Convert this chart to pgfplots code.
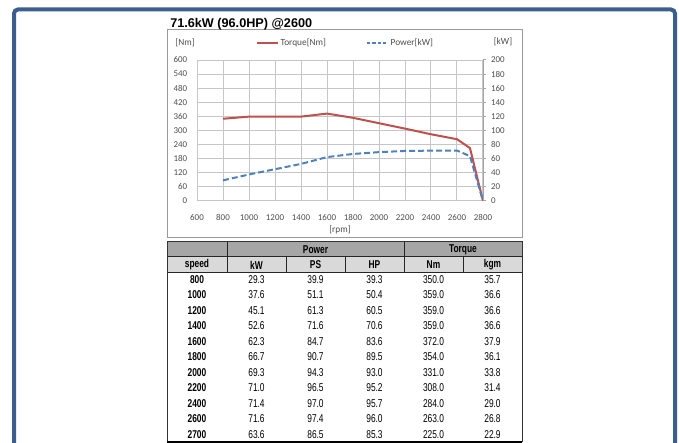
\documentclass[border=0pt]{standalone}
\usepackage{pgfplots}
\pgfplotsset{compat=1.18}
\usepackage{fontspec}
\setmainfont{Liberation Sans}
\newfontfamily\calfont{Carlito}
\newfontfamily\narrow[FakeStretch=0.74]{Liberation Sans}
\definecolor{frame}{HTML}{3B5E8C}
\definecolor{tq}{HTML}{C0504D}
\definecolor{pw}{HTML}{4F81BD}
\definecolor{hdrA}{HTML}{A6A6A6}
\definecolor{hdrB}{HTML}{D9D9D9}
\definecolor{txt}{HTML}{4D4D4D}
\begin{document}
\begin{tikzpicture}[x=0.75pt,y=0.75pt]
\path[use as bounding box] (0,0) rectangle (679,443);
% outer frame
\draw[frame, line width=3pt, rounded corners=3pt] (14,-5) -- (14,433.5) -- (675,433.5) -- (675,-5);
% chart box
\draw[gray!80, line width=0.75pt] (167,413) rectangle (522,205);
\node[anchor=base west, inner sep=0pt, font=\bfseries\fontsize{9.5}{11}\selectfont] at (170,415.5) {71.6kW (96.0HP) @2600};
\node[font=\calfont\fontsize{7}{8}\selectfont, text=txt] at (185,400) {[Nm]};
\node[font=\calfont\fontsize{7}{8}\selectfont, text=txt] at (503,401) {[kW]};

\begin{axis}[
  at={(147.75pt,181.5pt)}, anchor=south west,
  scale only axis, width=214.5pt, height=105.75pt,
  xmin=600, xmax=2800, ymin=0, ymax=600,
  xtick={600,800,...,2800}, ytick={0,60,...,600},
  grid=major, major grid style={gray!45, line width=0.75pt},
  axis line style={draw=none},
  major tick length=0pt,
  tick label style={font=\calfont\fontsize{6.7}{7}\selectfont, text=txt},
  /pgf/number format/assume math mode=true,
  /pgf/number format/1000 sep={},
  x tick label style={yshift=-6.5pt},
  y tick label style={xshift=-3.8pt},
  xlabel={[rpm]}, xlabel style={font=\calfont\fontsize{7}{8}\selectfont, text=txt, yshift=3pt},
  legend columns=2,
  legend style={at={(axis description cs:0.205,1.1206)}, anchor=west, draw=none, fill=none,
    inner sep=0pt, font=\calfont\fontsize{7}{8}\selectfont, text=txt, nodes={inner sep=1pt},
    /tikz/every even column/.append style={column sep=29pt}},
  legend image code/.code={\draw[#1] (0pt,0pt) -- (16pt,0pt);},
]
\addplot[tq, line width=1.5pt, mark=none] coordinates {
 (800,350) (1000,359) (1200,359) (1400,359) (1600,372) (1800,354)
 (2000,331) (2200,308) (2400,284) (2600,263) (2700,225) (2800,0)};
\addlegendentry{Torque[Nm]}
\addlegendimage{pw, line width=1.5pt, dash pattern=on 2.5pt off 1.5pt}
\addlegendentry{Power[kW]}
\end{axis}

\begin{axis}[
  at={(147.75pt,181.5pt)}, anchor=south west,
  scale only axis, width=214.5pt, height=105.75pt,
  xmin=600, xmax=2800, ymin=0, ymax=200,
  ytick={0,20,...,200},
  axis x line=none, axis y line*=right,
  y axis line style={gray!70, line width=0.75pt},
  tick align=outside, major tick length=2.5pt,
  tick style={gray!70, line width=0.75pt},
  tick label style={font=\calfont\fontsize{6.7}{7}\selectfont, text=txt},
  /pgf/number format/assume math mode=true,
]
\addplot[pw, line width=1.5pt, dash pattern=on 4.5pt off 2.25pt, mark=none] coordinates {
 (800,29.3) (1000,37.6) (1200,45.1) (1400,52.6) (1600,62.3) (1800,66.7)
 (2000,69.3) (2200,71.0) (2400,71.4) (2600,71.6) (2700,63.6) (2800,0)};
\end{axis}

% table
\fill[hdrA] (167,201) rectangle (522,186);
\fill[hdrB] (167,186) rectangle (522,170);
\draw[black!85, line width=0.75pt] (167,186) -- (522,186);
\draw[black!85, line width=0.75pt] (167,170) -- (522,170);
\foreach \xx in {227,404} \draw[black!85, line width=0.75pt] (\xx,201) -- (\xx,186);
\foreach \xx in {227,286,345,404,463} \draw[black!85, line width=0.75pt] (\xx,186) -- (\xx,170);
\draw[black!80, line width=0.75pt] (167,201) rectangle (522,1.5);
\draw[black, line width=1.5pt] (167,1.2) -- (522,1.2);
\node[font=\narrow\bfseries\fontsize{8.5}{9}\selectfont] at (315.5,193.5) {Power};
\node[font=\narrow\bfseries\fontsize{8.5}{9}\selectfont] at (463,193.5) {Torque};
\foreach \t/\xx in {speed/197,kW/256.5,PS/315.5,HP/374.5,Nm/433.5,kgm/492.5}
  \node[font=\narrow\bfseries\fontsize{8.5}{9}\selectfont] at (\xx,178) {\t};
\foreach \s/\a/\b/\c/\d/\e [count=\i from 0] in {
  800/29.3/39.9/39.3/350.0/35.7,
  1000/37.6/51.1/50.4/359.0/36.6,
  1200/45.1/61.3/60.5/359.0/36.6,
  1400/52.6/71.6/70.6/359.0/36.6,
  1600/62.3/84.7/83.6/372.0/37.9,
  1800/66.7/90.7/89.5/354.0/36.1,
  2000/69.3/94.3/93.0/331.0/33.8,
  2200/71.0/96.5/95.2/308.0/31.4,
  2400/71.4/97.0/95.7/284.0/29.0,
  2600/71.6/97.4/96.0/263.0/26.8,
  2700/63.6/86.5/85.3/225.0/22.9}{
  \pgfmathsetmacro{\yy}{163.5-15.5*\i}
  \node[font=\narrow\bfseries\fontsize{8.5}{9}\selectfont] at (197,\yy) {\s};
  \node[font=\narrow\fontsize{8.5}{9}\selectfont] at (256.5,\yy) {\a};
  \node[font=\narrow\fontsize{8.5}{9}\selectfont] at (315.5,\yy) {\b};
  \node[font=\narrow\fontsize{8.5}{9}\selectfont] at (374.5,\yy) {\c};
  \node[font=\narrow\fontsize{8.5}{9}\selectfont] at (433.5,\yy) {\d};
  \node[font=\narrow\fontsize{8.5}{9}\selectfont] at (492.5,\yy) {\e};
}
\end{tikzpicture}
\end{document}
